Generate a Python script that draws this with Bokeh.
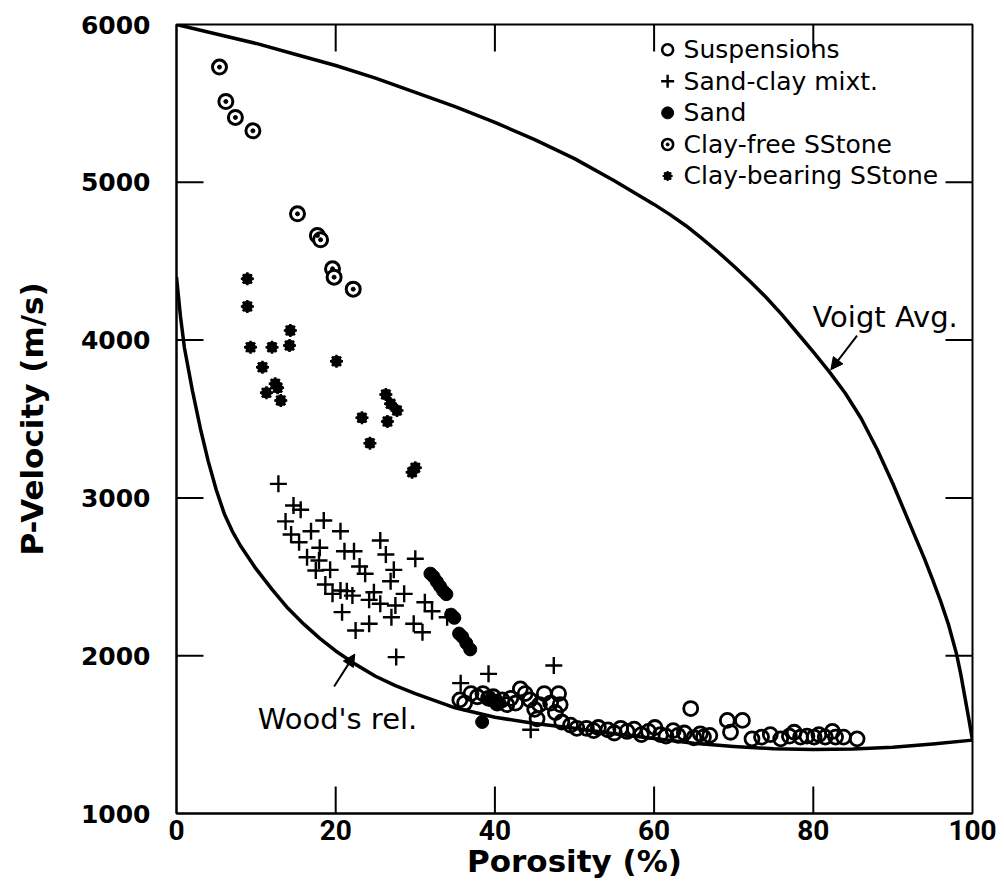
from bokeh.plotting import figure
from bokeh.models import Range1d, Label, Arrow, NormalHead, FixedTicker
from bokeh.core.properties import value
from bokeh.embed import file_html
from bokeh.resources import INLINE

# ---- measured data: porosity (%) and P-wave velocity (m/s) ----
susp_phi = [35.6, 36.2, 37.0, 37.8, 38.5, 39.2, 39.8, 40.3, 40.9, 41.5, 42.0, 42.6,
            43.2, 43.8, 44.4, 45.0, 45.3, 45.6, 46.2, 47.0, 47.6, 48.0, 48.2, 48.4,
            49.5, 50.3, 51.5, 52.4, 53.0, 54.2, 55.0, 55.8, 56.6, 57.5, 58.4, 59.3,
            60.1, 60.8, 61.5, 62.4, 63.0, 63.8, 64.6, 65.0, 65.8, 66.2, 67.0, 69.2,
            71.1, 69.6, 72.3, 73.5, 74.6, 75.9, 77.0, 77.6, 78.4, 79.2, 80.1, 80.7,
            81.5, 82.4, 82.8, 83.8, 85.5]
susp_vp = [1720, 1700, 1760, 1740, 1760, 1730, 1740, 1700, 1720, 1690, 1730, 1700,
           1790, 1760, 1720, 1660, 1600, 1690, 1760, 1700, 1640, 1760, 1690, 1580,
           1560, 1540, 1540, 1525, 1545, 1530, 1510, 1540, 1520, 1535, 1500, 1520,
           1545, 1500, 1490, 1525, 1495, 1510, 1665, 1480, 1505, 1484, 1495, 1590,
           1590, 1515, 1473, 1484, 1500, 1473, 1490, 1515, 1484, 1490, 1484, 1500,
           1484, 1520, 1484, 1484, 1473]

mix_phi = [12.8, 14.7, 15.6, 13.7, 18.5, 16.9, 20.6, 14.4, 15.4, 25.6, 18.0, 21.1,
           22.3, 26.3, 16.4, 30.0, 17.9, 23.0, 19.3, 27.3, 17.5, 23.7, 26.9, 18.7,
           20.6, 21.4, 19.6, 24.8, 22.1, 28.6, 24.2, 25.6, 27.5, 31.2, 32.1, 20.8,
           27.0, 29.8, 24.2, 30.9, 22.5, 27.6, 34.0, 35.7, 39.2, 47.4, 44.5]
mix_vp = [3089, 2952, 2925, 2851, 2857, 2789, 2789, 2768, 2719, 2730, 2684, 2662,
          2662, 2641, 2624, 2614, 2603, 2565, 2544, 2544, 2540, 2519, 2472, 2451,
          2413, 2409, 2392, 2402, 2381, 2392, 2354, 2329, 2318, 2339, 2282, 2276,
          2244, 2202, 2202, 2149, 2160, 1991, 2244, 1826, 1885, 1938, 1531]

sand_phi = [31.9, 32.3, 32.7, 33.1, 33.5, 33.9, 34.5, 34.9, 35.5, 35.9, 36.4, 36.9,
            38.4, 39.5, 40.3]
sand_vp = [2520, 2500, 2470, 2440, 2410, 2390, 2260, 2240, 2140, 2120, 2080, 2040,
           1580, 1720, 1700]

cfree_phi = [5.4, 6.2, 7.4, 9.6, 15.2, 17.7, 18.1, 19.6, 19.8, 22.2]
cfree_vp = [5730, 5512, 5411, 5326, 4800, 4663, 4636, 4452, 4399, 4323]

cbear_phi = [8.9, 8.9, 9.3, 12.0, 14.3, 14.2, 10.8, 12.4, 12.7, 11.3, 13.1, 20.1,
             26.3, 26.9, 27.7, 26.5, 23.3, 24.3, 29.6, 30.0]
cbear_vp = [4388, 4213, 3955, 3955, 4061, 3966, 3828, 3723, 3698, 3666, 3617, 3866,
            3655, 3596, 3554, 3484, 3508, 3347, 3163, 3191]

# ---- bounds: Voigt average (upper) and Wood's relation (lower) ----
voigt_phi = [0, 5, 10, 15, 20, 25, 30, 35, 40, 45, 50, 55, 58, 60, 62, 64, 66, 68,
             70, 72, 74, 76, 78, 80, 82, 84, 86, 88, 90, 92, 94, 95, 96, 97, 98,
             98.5, 99, 99.5, 100]
voigt_vp = [6000, 5940, 5880, 5810, 5740, 5660, 5570, 5480, 5380, 5270, 5150, 5010,
            4920, 4860, 4795, 4725, 4645, 4560, 4470, 4375, 4275, 4165, 4045, 3925,
            3800, 3665, 3505, 3310, 3090, 2850, 2610, 2480, 2345, 2195, 2010, 1890,
            1750, 1610, 1465]

wood_phi = [0, 0.5, 1, 2, 3, 4, 5, 6, 7, 8, 10, 12, 14, 16, 18, 20, 22.5, 25,
            27.5, 30, 35, 40, 45, 50, 55, 60, 65, 70, 75, 80, 85, 90, 95, 100]
wood_vp = [4400, 4150, 3950, 3680, 3440, 3230, 3050, 2900, 2790, 2700, 2550, 2420,
           2300, 2200, 2110, 2030, 1945, 1870, 1810, 1760, 1670, 1610, 1570, 1540,
           1505, 1475, 1445, 1425, 1410, 1405, 1408, 1420, 1440, 1465]

x_ticks = [0, 20, 40, 60, 80, 100]
y_ticks = [1000, 2000, 3000, 4000, 5000, 6000]

legend_labels = ["Suspensions", "Sand-clay mixt.", "Sand", "Clay-free SStone",
                 "Clay-bearing SStone"]

X0, X1, Y0, Y1 = 0, 100, 1000, 6000
FRAME_W, FRAME_H = 796, 789
TICK_PX = 27

NUM_FONT = "Roboto"
TEXT_FONT = "DejaVu Sans"

p = figure(width=1004, height=892, output_backend="svg", toolbar_location=None,
           x_range=Range1d(X0, X1), y_range=Range1d(Y0, Y1),
           min_border_left=176, min_border_right=32, min_border_top=24,
           min_border_bottom=79, background_fill_color="white",
           border_fill_color="white")
p.xgrid.visible = False
p.ygrid.visible = False
p.outline_line_color = "black"
p.outline_line_width = 2

p.xaxis.ticker = FixedTicker(ticks=x_ticks)
p.yaxis.ticker = FixedTicker(ticks=y_ticks)
for ax in p.axis:
    ax.major_tick_in = 0
    ax.major_tick_out = 0
    ax.minor_tick_in = 0
    ax.minor_tick_out = 0
    ax.axis_line_width = 2
    ax.axis_line_color = "black"
    ax.major_label_text_color = "black"
    ax.axis_label_text_color = "black"

bx = p.xaxis[0]
bx.axis_label = "Porosity (%)"
bx.major_label_text_font = NUM_FONT
bx.major_label_text_font_style = "bold"
bx.major_label_text_font_size = "28px"
bx.major_label_standoff = 6
bx.axis_label_text_font = TEXT_FONT
bx.axis_label_text_font_style = "bold"
bx.axis_label_text_font_size = "31px"
bx.axis_label_standoff = 0

ly = p.yaxis[0]
ly.axis_label = "P-Velocity (m/s)"
ly.major_label_text_font = TEXT_FONT
ly.major_label_text_font_style = "bold"
ly.major_label_text_font_size = "25px"
ly.major_label_standoff = 26
ly.axis_label_text_font = TEXT_FONT
ly.axis_label_text_font_style = "bold"
ly.axis_label_text_font_size = "31px"
ly.axis_label_standoff = 28

# inward ticks on all four sides of the frame
tx = TICK_PX * (X1 - X0) / FRAME_W
ty = TICK_PX * (Y1 - Y0) / FRAME_H
inner_x = x_ticks[1:-1]
inner_y = y_ticks[1:-1]
p.segment(x0=inner_x, y0=[Y0] * len(inner_x), x1=inner_x, y1=[Y0 + ty] * len(inner_x),
          line_color="black", line_width=2)
p.segment(x0=inner_x, y0=[Y1] * len(inner_x), x1=inner_x, y1=[Y1 - ty] * len(inner_x),
          line_color="black", line_width=2)
p.segment(x0=[X0] * len(inner_y), y0=inner_y, x1=[X0 + tx] * len(inner_y), y1=inner_y,
          line_color="black", line_width=2)
p.segment(x0=[X1] * len(inner_y), y0=inner_y, x1=[X1 - tx] * len(inner_y), y1=inner_y,
          line_color="black", line_width=2)

# bounding curves
p.line(voigt_phi, voigt_vp, line_color="black", line_width=3.5, line_join="round")
p.line(wood_phi, wood_vp, line_color="black", line_width=3.5, line_join="round")

# data sets
p.scatter(susp_phi, susp_vp, marker="circle", size=14, fill_alpha=0.0,
          line_color="black", line_width=2.8)
p.scatter(mix_phi, mix_vp, marker="cross", size=17, line_color="black", line_width=2.4)
p.scatter(sand_phi, sand_vp, marker="circle", size=13, fill_color="black",
          line_color="black")
p.scatter(cfree_phi, cfree_vp, marker="circle", size=14, fill_color="white",
          line_color="black", line_width=3)
p.scatter(cfree_phi, cfree_vp, marker="circle", size=4, fill_color="black",
          line_color="black")
p.scatter(cbear_phi, cbear_vp, marker="hex", size=11, fill_color="black",
          line_color="black")
p.scatter(cbear_phi, cbear_vp, marker="asterisk", size=13, line_color="black",
          line_width=2.5)

# key, drawn inside the upper-right of the frame
key_x = 61.7
key_text_x = 63.7
key_y = [5840 - 200 * i for i in range(len(legend_labels))]
p.scatter([key_x], [key_y[0]], marker="circle", size=11, fill_alpha=0.0,
          line_color="black", line_width=2.6)
p.scatter([key_x], [key_y[1]], marker="cross", size=13, line_color="black",
          line_width=2.4)
p.scatter([key_x], [key_y[2]], marker="circle", size=12, fill_color="black",
          line_color="black")
p.scatter([key_x], [key_y[3]], marker="circle", size=11, fill_color="white",
          line_color="black", line_width=2.6)
p.scatter([key_x], [key_y[3]], marker="circle", size=3, fill_color="black",
          line_color="black")
p.scatter([key_x], [key_y[4]], marker="hex", size=8, fill_color="black",
          line_color="black")
p.scatter([key_x], [key_y[4]], marker="asterisk", size=10, line_color="black",
          line_width=2)
p.text(x=[key_text_x] * len(legend_labels), y=key_y, text=legend_labels,
       text_font=value(TEXT_FONT), text_font_size="25px", text_color="black",
       text_baseline="middle", text_align="left")

# curve annotations
p.add_layout(Label(x=79.9, y=4145, text="Voigt Avg.", text_font=TEXT_FONT,
                   text_font_size="29px", text_color="black",
                   text_baseline="middle", text_align="left"))
p.add_layout(Arrow(x_start=85.5, y_start=4028, x_end=82.2, y_end=3812,
                   line_width=2, line_color="black",
                   end=NormalHead(size=12, fill_color="black", line_color="black")))

p.add_layout(Label(x=10.2, y=1596, text="Wood's rel.", text_font=TEXT_FONT,
                   text_font_size="29px", text_color="black",
                   text_baseline="middle", text_align="left"))
p.add_layout(Arrow(x_start=19.8, y_start=1805, x_end=22.4, y_end=2010,
                   line_width=2, line_color="black",
                   end=NormalHead(size=12, fill_color="black", line_color="black")))

open("out.html", "w").write(file_html(p, INLINE))
